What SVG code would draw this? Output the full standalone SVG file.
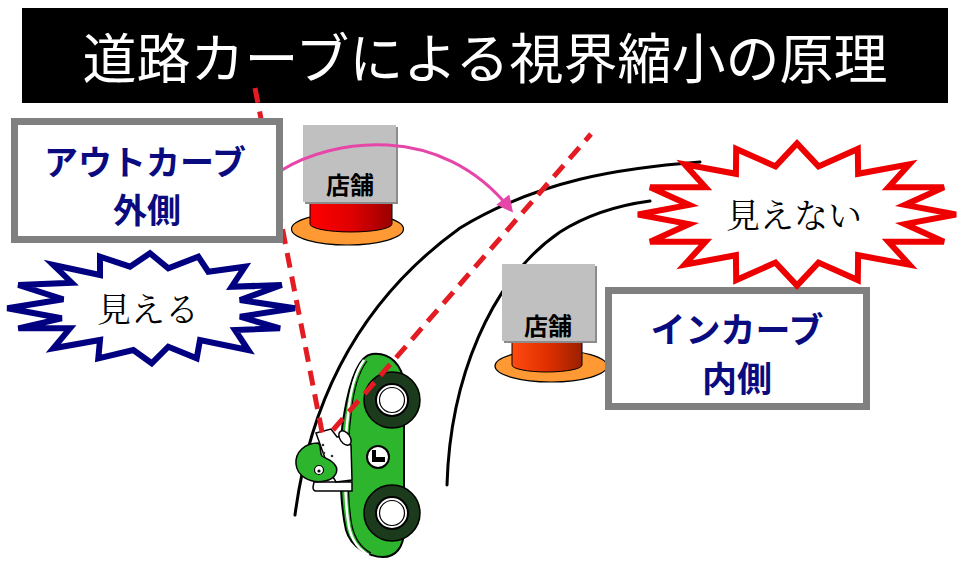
<svg xmlns="http://www.w3.org/2000/svg" width="960" height="568" viewBox="0 0 960 568">
<defs>
<style>
.road{fill:none;stroke:#000;stroke-width:3;stroke-linecap:round}
.sight{fill:none;stroke:#e31b23;stroke-width:5;stroke-dasharray:15 9}
.box{fill:#fff;stroke:#808080;stroke-width:7}
.boxt{font-family:"Noto Sans CJK JP","Noto Sans",sans-serif;font-weight:bold;fill:#0b0b80;text-anchor:middle}
.shop{fill:#c0c0c0}
.shopsh{fill:#8c8c8c}
.shopt{font-family:"Noto Sans CJK JP","Noto Sans",sans-serif;font-weight:bold;font-size:24px;fill:#000;text-anchor:middle}
.base{fill:#ff9933;stroke:#000;stroke-width:1.2}
.burstt{font-family:"Noto Serif CJK JP","Noto Sans CJK JP",serif;font-size:34px;fill:#000;text-anchor:middle}
.wheel{fill:#1c3a1c;stroke:#000;stroke-width:1.5}
.hub{fill:#fff;stroke:#000;stroke-width:2}
.hubr{fill:none;stroke:#000;stroke-width:1.2}
</style>
<linearGradient id="cyl1" x1="0" x2="1" y1="0" y2="0">
<stop offset="0" stop-color="#ff0000"/><stop offset="0.5" stop-color="#e00000"/><stop offset="1" stop-color="#9a0000"/>
</linearGradient>
<linearGradient id="cyl2" x1="0" x2="1" y1="0" y2="0">
<stop offset="0" stop-color="#ff4a10"/><stop offset="0.5" stop-color="#e03000"/><stop offset="1" stop-color="#9a2000"/>
</linearGradient>
<marker id="arrowhead" viewBox="0 0 10 10" refX="8" refY="5" markerWidth="6" markerHeight="5.5" orient="auto" markerUnits="strokeWidth">
<path d="M0,0 L10,5 L0,10 Z" fill="#e546a8"/>
</marker>
</defs>

<rect width="960" height="568" fill="#fff"/>

<g id="title">
<rect x="22" y="8" width="926" height="95" fill="#000"/>
<text x="485" y="79" font-family="Noto Sans CJK JP, Noto Sans, sans-serif" font-size="54" fill="#fff" text-anchor="middle">道路カーブによる視界縮小の原理</text>
</g>

<g id="road">
<path class="road" d="M295,515 C310,400 360,300 460,228 C540,180 620,168 700,162"/>
<path class="road" d="M447,485 C450,380 490,280 560,232 C590,213 620,205 650,201"/>
</g>

<g id="shop1">
<ellipse class="base" cx="347.5" cy="229" rx="56" ry="16"/>
<path d="M310,200 L310,224 A41,8 0 0 0 392,224 L392,200 Z" fill="url(#cyl1)" stroke="#000" stroke-width="1"/>
<rect class="shopsh" x="305" y="127" width="93" height="77"/>
<rect class="shop" x="303" y="125" width="93" height="77"/>
<text class="shopt" x="350" y="194">店舗</text>
</g>

<g id="shop2">
<ellipse class="base" cx="551" cy="366" rx="56" ry="16"/>
<path d="M512,338 L512,365 A35,7 0 0 0 582,365 L582,338 Z" fill="url(#cyl2)" stroke="#000" stroke-width="1"/>
<rect class="shopsh" x="504" y="266" width="93" height="77"/>
<rect class="shop" x="502" y="264" width="93" height="77"/>
<text class="shopt" x="548" y="335">店舗</text>
</g>

<g id="car">
<path d="M372,354 C390,352 403,365 404,385 L404,530 C404,548 395,557 383,557 C370,557 351,548 346,530 C339,500 339,440 344,415 C349,385 357,356 372,354 Z" fill="#2db52d" stroke="#000" stroke-width="2"/>
<path d="M364,360 C355,372 350,392 348,415 C344,445 344,500 349,527 C352,541 359,550 369,555" fill="none" stroke="#fff" stroke-width="2.5"/>
<path d="M367,361 C358,373 353,393 351,415 C347,445 347,500 352,526 C355,539 361,548 371,553" fill="none" stroke="#000" stroke-width="1.2"/>
<circle class="wheel" cx="392" cy="400" r="28"/>
<circle class="hub" cx="392" cy="400" r="16"/>
<circle class="hubr" cx="392" cy="400" r="12.5"/>
<circle class="wheel" cx="392" cy="513" r="28"/>
<circle class="hub" cx="392" cy="513" r="16"/>
<circle class="hubr" cx="392" cy="513" r="12.5"/>
<circle cx="378" cy="457" r="11" fill="#fff" stroke="#000" stroke-width="2"/>
<path d="M372,450 L376,450 L376,457 L385,457 L385,462 L372,462 Z" fill="#000"/>
<path d="M314,482 L352,482 L352,491 L316,491 Q313,491 313,487 Z" fill="#fff" stroke="#000" stroke-width="1.5"/>
<path d="M316,433 L331,429 L337,437 L344,436 L351,445 L352,480 L336,482 L330,472 Z" fill="#fff" stroke="#000" stroke-width="1.5"/>
<ellipse cx="345" cy="438" rx="5" ry="8" transform="rotate(-35 345 438)" fill="#fff" stroke="#000" stroke-width="1.5"/>
<path d="M318,443 C305,443 295,452 296,464 C297,476 310,484 325,481 C336,479 339,470 335,465 C332,460 326,459 322,456 C319,452 322,445 318,443 Z" fill="#2db52d" stroke="#000" stroke-width="1.5"/>
<circle cx="319" cy="470" r="4.5" fill="#fff" stroke="#000" stroke-width="1.2"/>
<circle cx="319" cy="471" r="1.6" fill="#000"/>
<circle cx="323" cy="445" r="1.3" fill="#333"/>
<circle cx="324" cy="453" r="1.3" fill="#333"/>
<circle cx="332" cy="456" r="1.3" fill="#333"/>
</g>

<g id="connectors">
<path class="sight" d="M255,88 L323,437"/>
<path class="sight" d="M333,430 L591,134"/>
<path d="M282,170 C330,140 440,120 511,210" fill="none" stroke="#e546a8" stroke-width="3" marker-end="url(#arrowhead)"/>
</g>

<g id="outer-box">
<rect class="box" x="14.5" y="121.5" width="265" height="118"/>
<text class="boxt" x="145" y="175" font-size="34">アウトカーブ</text>
<text class="boxt" x="147" y="223" font-size="34">外側</text>
</g>

<g id="inner-box">
<rect class="box" x="608.5" y="290.5" width="258" height="116"/>
<text class="boxt" x="737" y="343" font-size="35">インカーブ</text>
<text class="boxt" x="737" y="392" font-size="35">内側</text>
</g>

<g id="burst-visible">
<polygon points="7.3,308.3 63.3,299.3 18.3,285 71.7,282.7 53.3,265 100,275 100,256.7 130,266.7 150,253.3 168.3,268.3 198.3,256.7 208.3,271.7 245,266.7 231.7,286.7 281.7,285 240,300 295,308.3 240,316.7 280,328.3 235,330 248.3,350 200,340 196.7,358.3 168.3,346.7 151.7,363.3 133.3,350 98.3,358.3 100,340 53.3,348.3 70,328.3 18.3,328.3 61.7,318.3" fill="#fff" stroke="#000080" stroke-width="6" stroke-linejoin="miter"/>
<text class="burstt" x="148" y="322">見える</text>
</g>

<g id="burst-hidden">
<polygon points="956,214.5 904.9,204.9 943.9,187.3 888.5,187.3 909.4,164.3 858.1,173.8 857.8,148.9 818.5,166.4 797,143.5 775.5,166.4 736.2,148.9 735.9,173.8 684.6,164.3 705.5,187.3 650.1,187.3 689.1,204.9 638,214.5 689.1,224.1 650.1,241.7 705.5,241.7 684.6,264.7 735.9,255.2 736.2,280.1 775.5,262.6 797,285.5 818.5,262.6 857.8,280.1 858.1,255.2 909.4,264.7 888.5,241.7 943.9,241.7 904.9,224.1" fill="#fff" stroke="#ee0000" stroke-width="6" stroke-linejoin="miter"/>
<text class="burstt" x="794" y="228">見えない</text>
</g>
</svg>
